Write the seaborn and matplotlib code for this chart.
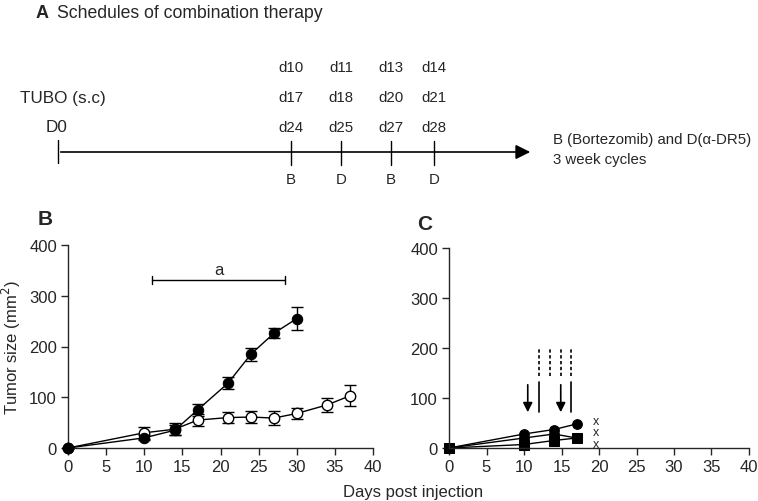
import numpy as np
import pandas as pd
import matplotlib
matplotlib.use("Agg")
import matplotlib.pyplot as plt
import seaborn as sns

sns.set_style("ticks")
plt.rcParams['font.family'] = ['Liberation Sans', 'DejaVu Sans']

# panel B data
days_ctrl = [0, 10, 14, 17, 21, 24, 27, 30]
size_ctrl = [0, 20, 35, 75, 128, 185, 226, 255]
err_ctrl = [0, 5, 10, 12, 12, 13, 10, 22]
days_trt = [0, 10, 14, 17, 21, 24, 27, 30, 34, 37]
size_trt = [0, 30, 37, 55, 60, 61, 59, 68, 85, 103]
err_trt = [0, 12, 12, 12, 11, 11, 14, 11, 14, 21]

# panel C data (three mice)
days_c = [0, 10, 14, 17]
mouse1 = [0, 28, 37, 48]
mouse2 = [0, 20, 28, 20]
mouse3 = [0, 7, 15, 20]
dead_day = 19.2
dead_y = [54, 31, 8]
arrow_days = [10.5, 14.9]
solid_days = [12.0, 16.2]
dash_days = [12.0, 13.5, 14.9, 16.3]

# panel A schedule
sched_rows = [["d10", "d11", "d13", "d14"],
              ["d17", "d18", "d20", "d21"],
              ["d24", "d25", "d27", "d28"]]
sched_drug = ["B", "D", "B", "D"]

fig = plt.figure(figsize=(7.58, 5.02), dpi=100)

# ---- panel A (schematic, pixel coords) ----
axA = fig.add_axes([0, 0, 1, 1])
axA.set_xlim(0, 758)
axA.set_ylim(502, 0)
axA.axis('off')
fs = 10.8
axA.text(36, 13, "A", fontsize=13, fontweight='bold', va='center')
axA.text(57, 13, "Schedules of combination therapy", fontsize=12.7, va='center')
axA.text(20, 98, "TUBO (s.c)", fontsize=12.3, va='center')
axA.text(46, 128, "D0", fontsize=12.3, va='center')
axA.annotate("", xy=(533, 153), xytext=(58, 153),
             arrowprops=dict(arrowstyle='-|>', color='black', lw=1.2, mutation_scale=22))
axA.plot([58, 58], [141, 164], color='black', lw=1)
tick_x = [291, 341, 391, 434]
row_y = [68, 98, 128]
for i, tx in enumerate(tick_x):
    axA.plot([tx, tx], [142, 166], color='black', lw=1)
    for r, ry in enumerate(row_y):
        axA.text(tx, ry, sched_rows[r][i], fontsize=fs, ha='center', va='center')
    axA.text(tx, 180, sched_drug[i], fontsize=fs, ha='center', va='center')
axA.text(553, 140, "B (Bortezomib) and D(α-DR5)", fontsize=10.8, va='center')
axA.text(553, 160, "3 week cycles", fontsize=10.8, va='center')

# ---- panel B ----
axB = fig.add_axes([68 / 758, 1 - 449 / 502, 305 / 758, 203 / 502])
df_c = pd.DataFrame({'day': days_ctrl, 'size': size_ctrl})
df_t = pd.DataFrame({'day': days_trt, 'size': size_trt})
axB.errorbar(days_ctrl, size_ctrl, yerr=err_ctrl, fmt='none', ecolor='black',
             elinewidth=1, capsize=4.5, capthick=1, clip_on=False)
axB.errorbar(days_trt, size_trt, yerr=err_trt, fmt='none', ecolor='black',
             elinewidth=1, capsize=4.5, capthick=1, clip_on=False)
sns.lineplot(data=df_t, x='day', y='size', ax=axB, color='black', lw=1,
             marker='o', markersize=7.5, markerfacecolor='white',
             markeredgecolor='black', markeredgewidth=1, clip_on=False, zorder=3)
sns.lineplot(data=df_c, x='day', y='size', ax=axB, color='black', lw=1,
             marker='o', markersize=7.5, markerfacecolor='black',
             markeredgecolor='black', clip_on=False, zorder=4)
axB.plot([11, 28.5], [331, 331], color='black', lw=1)
axB.plot([11, 11], [323, 339], color='black', lw=1)
axB.plot([28.5, 28.5], [323, 339], color='black', lw=1)
axB.text(19.8, 352, "a", fontsize=12, ha='center', va='center')
axB.set_ylabel("Tumor size (mm$^2$)", fontsize=12)

# ---- panel C ----
axC = fig.add_axes([449 / 758, 1 - 449 / 502, 300 / 758, 200 / 502])
for vals, mk, ms in [(mouse3, 's', 6.5), (mouse2, 'o', 7), (mouse1, 'o', 7)]:
    d = pd.DataFrame({'day': days_c, 'size': vals})
    sns.lineplot(data=d, x='day', y='size', ax=axC, color='black', lw=1,
                 marker=mk, markersize=ms, markerfacecolor='black',
                 markeredgecolor='black', clip_on=False)
for yy in dead_y:
    axC.text(dead_day, yy, "x", fontsize=9, ha='left', va='center')
for ad in arrow_days:
    axC.annotate("", xy=(ad, 66), xytext=(ad, 132),
                 arrowprops=dict(arrowstyle='-|>', color='black', lw=1.2, mutation_scale=14))
for sd in solid_days:
    axC.plot([sd, sd], [72, 132], color='black', lw=1.2)
for dd in dash_days:
    axC.plot([dd, dd], [144, 202], color='black', lw=1.2, ls=(0, (2, 1.5)))

for ax in [axB, axC]:
    ax.set_xlim(0, 40)
    ax.set_ylim(0, 400)
    ax.set_xticks(range(0, 41, 5))
    ax.set_yticks(range(0, 401, 100))
    ax.tick_params(labelsize=12, length=5, width=1, direction='out', pad=3)
    sns.despine(ax=ax)
    ax.spines['left'].set_linewidth(1)
    ax.spines['bottom'].set_linewidth(1)
    ax.set_xlabel("")
axC.set_ylabel("")

axA.text(45, 220, "B", fontsize=15, fontweight='bold', ha='center', va='center')
axA.text(425, 225, "C", fontsize=15, fontweight='bold', ha='center', va='center')
fig.text(413 / 758, 1 - 493 / 502, "Days post injection", fontsize=12, ha='center', va='center')

fig.savefig("out.png", dpi=100)
